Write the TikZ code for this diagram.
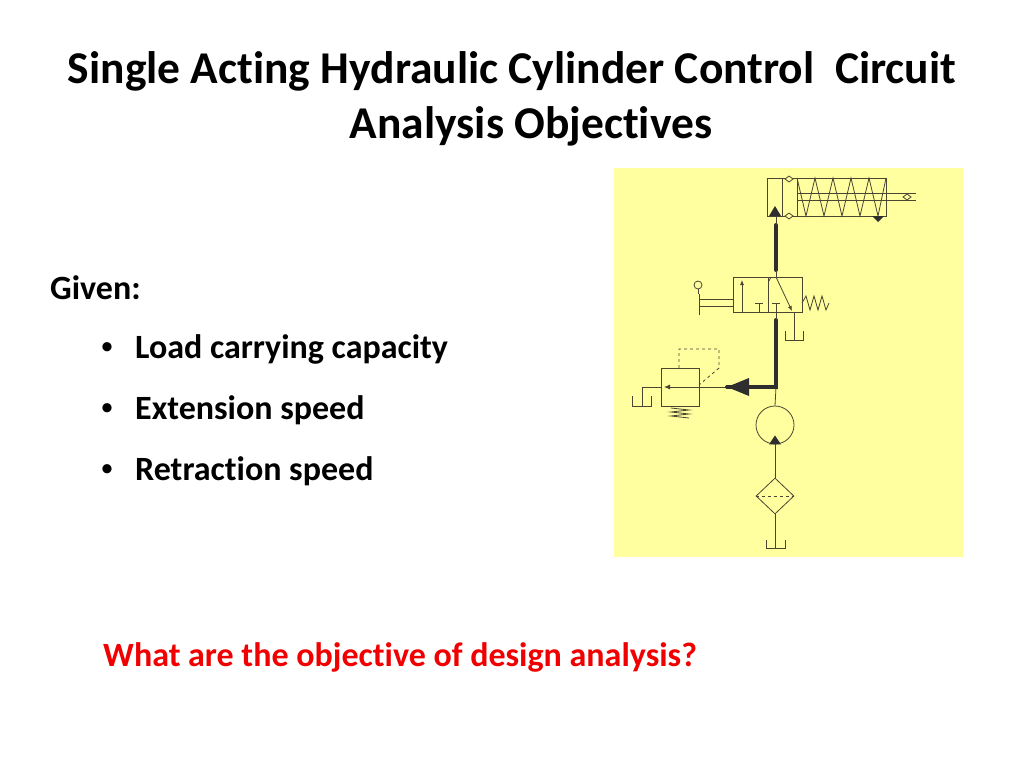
\documentclass[tikz,border=0pt]{standalone}
\usepackage{fontspec}
\setmainfont[Ligatures={NoCommon}]{Carlito}
\usetikzlibrary{positioning,arrows.meta,shapes.geometric}
\definecolor{padyellow}{HTML}{FFFFA0}
\definecolor{pipe}{HTML}{4A4632}
\definecolor{flow}{HTML}{2E2E2E}
\definecolor{askred}{HTML}{F00000}
\begin{document}
\begin{tikzpicture}
		[   x=1pt,y=-1pt,
		    thin line/.style={draw=pipe,line width=0.8pt},
		    thick flow/.style={draw=flow,line width=4pt,line cap=round},
		    tank/.style={draw=pipe,line width=0.8pt},
		    txt/.style={anchor=west,inner sep=0pt,font=\fontsize{34}{40}\selectfont\bfseries},
		]
		\useasboundingbox (0,0) rectangle (1024,768);
		\fill[white] (0,0) rectangle (1024,768);
		% texts
		\node[font=\fontsize{45.5}{55}\selectfont\bfseries,align=center] (title) at (512,99) {Single Acting Hydraulic Cylinder Control\ \ Circuit\\\hspace*{38pt}Analysis Objectives};
		\node[txt] (given) at (50,288) {Given:};
		\foreach \t [count=\i] in {Load carrying capacity,Extension speed,Retraction speed}
		{
			\node[txt] (b-\i) at (135,288+61*\i) {\t};
			\node[anchor=center,inner sep=0pt,font=\fontsize{26}{30}\selectfont] at (107,288+61*\i) {\textbullet};
		}
		\node[txt,text=askred] (ask) at (103,657) {What are the objective of design analysis?};
		% circuit pad
		\fill[padyellow] (614,168) rectangle (963,557);
		% cylinder
		\draw[thin line] (767,178) rectangle (886,216);
		\draw[thin line] (782,178) -- (782,216);
		\draw[thin line] (797,178) -- (797,216);
		\draw[thin line] (797,193) -- (916,193) (797,200) -- (916,200);
		\draw[thin line] (797,178) -- (806,216) -- (815,178) -- (824,216) -- (833,178) -- (842,216) -- (851,178) -- (860,216) -- (869,178) -- (878,216) -- (886,178);
		\foreach \p in {(789,179),(789,216),(907,197)}
			\draw[thin line,fill=padyellow] \p ++(-4,0) -- ++(4,-3) -- ++(4,3) -- ++(-4,3) -- cycle;
		\fill[flow] (769,216) -- (775,206) -- (781,216) -- cycle;
		\fill[flow] (872,216) -- (878,222) -- (884,216) -- cycle;
		\coordinate (cyl-a) at (776,216);
		% valve
		\draw[thin line] (733,277) rectangle (802,312);
		\draw[thin line] (768,277) -- (768,312);
		\draw[thin line,-{Latex[length=5pt,width=4pt]}] (742,312) -- (742,280);
		\draw[thin line] (759,312) -- (759,303) (755,303) -- (763,303);
		\draw[thin line] (776,312) -- (776,303) (772,303) -- (780,303);
		\draw[thin line,-{Latex[length=5pt,width=4pt]}] (776,277) -- (792,311);
		\draw[thin line] (771,277) -- (769,281);
		\draw[thin line] (802,303) -- (806,296) -- (810,310) -- (814,296) -- (818,310) -- (822,296) -- (826,310) -- (829,303);
		\draw[thin line] (699,299) -- (733,299) (699,306) -- (733,306) (699,294) -- (699,315);
		\draw[thin line] (698,285) circle (4);
		\draw[thin line] (698,289) -- (698,294);
		\coordinate (val-p) at (776,312);
		\coordinate (val-a) at (776,277);
		\coordinate (val-t) at (794,312);
		\draw[tank] (785,331) -- (785,340) -- (803,340) -- (803,331);
		\draw[thin line] (val-t) -- (794,340);
		% relief valve
		\draw[thin line] (661,368) rectangle (699,406);
		\draw[thin line,-{Latex[length=6pt,width=5pt]}] (699,387) -- (664,387);
		\draw[thin line] (661,387) -- (642,387) -- (642,406);
		\draw[tank] (632,396) -- (632,406) -- (651,406) -- (651,396);
		\draw[thin line,dashed] (679,368) -- (679,349) -- (719,349) -- (719,368) -- (699,385);
		\draw[thin line] (671,408) -- (689,410) -- (671,412) -- (689,414) -- (671,416) -- (689,418);
		\coordinate (rel-in) at (699,387);
		% pump
		\node[circle,draw=pipe,line width=0.8pt,minimum size=38pt,inner sep=0pt] (pump) at (775,425) {};
		\fill[flow] (pump.south) ++(-6,0) -- ++(6,-9) -- ++(6,9) -- cycle;
		% filter
		\node[diamond,draw=pipe,line width=0.8pt,minimum width=38pt,minimum height=36pt,inner sep=0pt] (filter) at (775,496) {};
		\draw[thin line,dashed] (filter.west) -- (filter.east);
		\draw[tank] (766,540) -- (766,548) -- (785,548) -- (785,540);
		\coordinate (tank-p) at (775,548);
		% connections
		\coordinate (tee) at (776,387);
		\draw[thin line] (filter.north) -- (pump.south);
		\draw[thin line] (filter.south) -- (tank-p);
		\draw[thin line] (pump.north) -- (tee);
		\draw[thin line] (tee) -- (rel-in);
		\draw[thick flow] (776,320) -- (tee) -- (727,387);
		\fill[flow] (727,387) -- (749,378) -- (749,396) -- cycle;
		\draw[thin line] (val-p) -- (776,320);
		\draw[thick flow] (776,225) -- (776,270);
		\draw[thin line] (val-a) -- (776,270) (776,225) -- (cyl-a);
\end{tikzpicture}
\end{document}
